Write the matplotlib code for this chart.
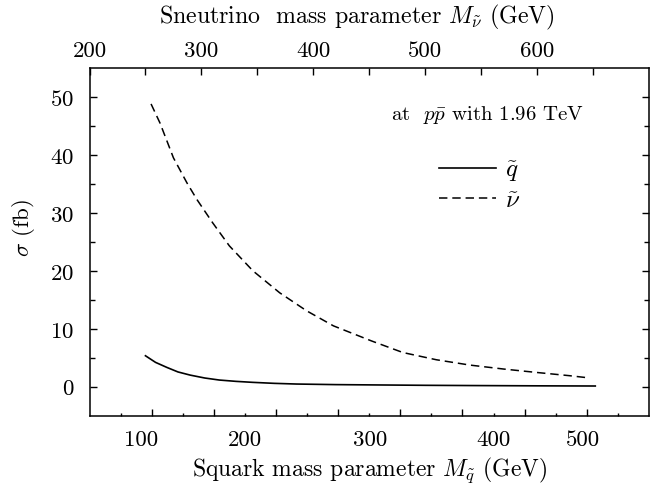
import matplotlib.pyplot as plt
import numpy as np

plt.rcParams['font.family'] = 'serif'
plt.rcParams['font.serif'] = ['cmr10', 'DejaVu Serif']
plt.rcParams['mathtext.fontset'] = 'cm'
plt.rcParams['axes.formatter.use_mathtext'] = True

# x positions are given on the (linear) sneutrino mass scale of the top axis
x_snu = [255, 263, 275, 287, 296, 310, 325, 346, 370, 394, 418, 452,
         480, 510, 540, 570, 599, 629, 645]
sig_snu = [48.8, 45.5, 39.5, 35.2, 32.3, 28.3, 24.3, 20.0, 16.2, 13.1, 10.5, 7.9,
           5.9, 4.65, 3.73, 3.05, 2.47, 1.9, 1.55]

x_sq = [250, 259, 269, 279, 290, 303, 316, 331, 346, 365, 385, 420, 459, 500, 540, 600, 652]
sig_sq = [5.34, 4.2, 3.34, 2.55, 2.0, 1.5, 1.15, 0.92, 0.75, 0.58, 0.46, 0.36, 0.3,
          0.24, 0.2, 0.15, 0.12]

# squark mass labels and where they sit on the sneutrino scale
msq_labels = ['100', '200', '300', '400', '500']
msq_on_snu = [246.4, 338.7, 450.4, 560.6, 641.1]

snu_major = [200, 300, 400, 500, 600]
snu_minor = [250, 350, 450, 550, 650]

fig = plt.figure(figsize=(6.71, 4.89), dpi=100)
ax = fig.add_axes([0.1334, 0.1479, 0.8338, 0.7110])

l1, = ax.plot(x_sq, sig_sq, 'k-', lw=1.2)
l2, = ax.plot(x_snu, sig_snu, 'k--', lw=1.1, dashes=(5.5, 3.2))

ax.set_xlim(200, 700)
ax.set_ylim(-5, 55)

# bottom tick marks: 18 equal steps, every other one long
step = 500 / 18
ax.set_xticks(200 + 2 * step * np.arange(1, 9))
ax.set_xticks(200 + step * np.arange(1, 18, 2), minor=True)
ax.tick_params(axis='x', which='major', direction='in', length=5, width=1,
               labelbottom=False, top=False)
ax.tick_params(axis='x', which='minor', direction='in', length=2.3, width=1, top=False)

ax.set_yticks(np.arange(0, 51, 10))
ax.set_yticks(np.arange(5, 51, 10), minor=True)
ax.tick_params(axis='y', which='major', direction='in', length=5.3, width=1,
               right=True, labelsize=16.5, pad=11)
ax.tick_params(axis='y', which='minor', direction='in', length=3.4, width=1, right=True)
ax.set_ylabel(r'$\sigma$ (fb)', fontsize=16.5)
ax.yaxis.set_label_coords(-0.094, 0.543)

for s in ax.spines.values():
    s.set_linewidth(1.1)

bot = ax.secondary_xaxis('bottom')
bot.set_xticks(msq_on_snu, msq_labels)
bot.tick_params(length=0, labelsize=16.5, pad=10)
bot.spines['bottom'].set_visible(False)
bot.set_xlabel(r'Squark mass parameter $M_{\tilde{q}}$ (GeV)', fontsize=17, labelpad=4)

top = ax.secondary_xaxis('top')
top.set_xticks(snu_major, [str(v) for v in snu_major])
top.set_xticks(snu_minor, minor=True)
top.tick_params(which='both', direction='in', length=5.3, width=1, labelsize=16.5, pad=5.5)
top.spines['top'].set_visible(False)
top.set_xlabel(r'Sneutrino  mass parameter $M_{\tilde{\nu}}$ (GeV)', fontsize=17.2,
               labelpad=13, x=0.477)

ax.text(0.538, 0.868, r'at  $p\bar{p}$ with 1.96 TeV', transform=ax.transAxes,
        fontsize=15, va='center', ha='left')

ax.legend([l1, l2], [r'$\tilde{q}$', r'$\tilde{\nu}$'], loc='upper left',
          bbox_to_anchor=(0.624, 0.740), frameon=False, fontsize=18,
          handlelength=2.3, handletextpad=0.35, labelspacing=0.25, borderpad=0,
          borderaxespad=0)

plt.savefig('out.png', dpi=100)
